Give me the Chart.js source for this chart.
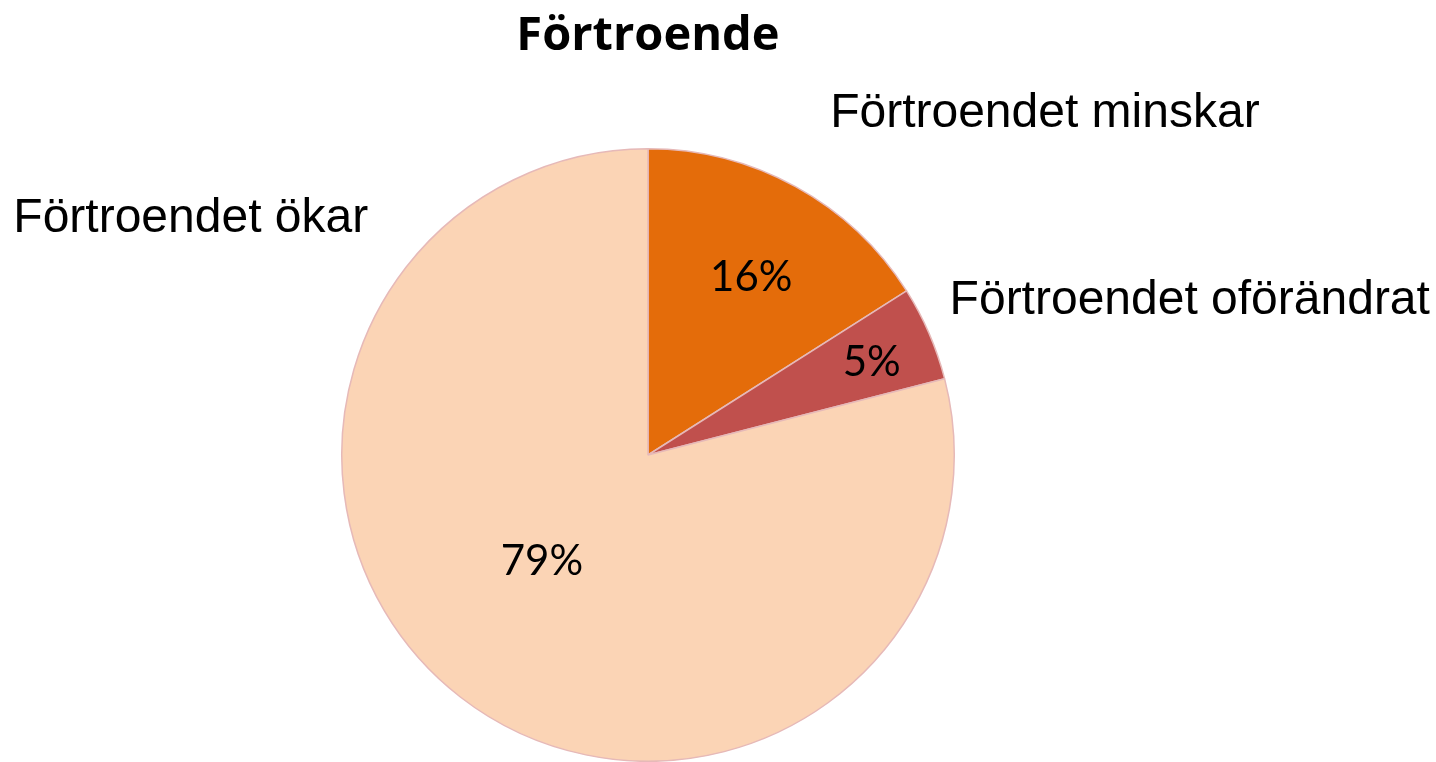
<!DOCTYPE html>
<html><head><meta charset="utf-8">
<script src="https://cdn.jsdelivr.net/npm/chart.js@4"></script>
<style>html,body{margin:0;padding:0;background:#fff;}#wrap{width:1436px;height:762px;position:relative;}</style>
</head><body><div id="wrap"><canvas id="c" width="1436" height="762"></canvas></div>
<script>
const title = "Förtroende";
const categories = ["Förtroendet minskar", "Förtroendet oförändrat", "Förtroendet ökar"];
const values = [16, 5, 79];
const percentLabels = ["16%", "5%", "79%"];
const colors = ["#E46C0A", "#C0504D", "#FBD4B5"];

// layout for labels (relative to pie center, in units of radius)
const outsidePos = [[1.296, -1.114], [1.769, -0.505], [-1.493, -0.772]];
const insidePos = [[0.67, 1.4], [0.79, 1.0], [0.49, 7.2]]; // radial fraction, angle shift (deg)

const labelPlugin = {
  id: 'labels',
  afterDatasetsDraw(chart) {
    const ctx = chart.ctx;
    const meta = chart.getDatasetMeta(0);
    ctx.save();
    ctx.fillStyle = '#000';
    ctx.textAlign = 'center';
    ctx.textBaseline = 'middle';
    ctx.font = 'bold 47px "Open Sans", Lato, sans-serif';
    ctx.fillText(title, 648, 37);
    meta.data.forEach((arc, i) => {
      const p = arc.getProps(['x','y','startAngle','endAngle','outerRadius'], true);
      const mid = (p.startAngle + p.endAngle) / 2 + insidePos[i][1] * Math.PI / 180;
      const d = p.outerRadius * insidePos[i][0];
      ctx.font = '42px Lato, "Open Sans", sans-serif';
      ctx.fillText(percentLabels[i], p.x + Math.cos(mid) * d, p.y + Math.sin(mid) * d);
      ctx.font = '48px "Liberation Sans", Arial, sans-serif';
      ctx.fillText(categories[i], p.x + outsidePos[i][0] * p.outerRadius, p.y + outsidePos[i][1] * p.outerRadius);
    });
    ctx.restore();
  }
};

new Chart(document.getElementById('c'), {
  type: 'pie',
  data: {
    labels: categories,
    datasets: [{ data: values, backgroundColor: colors, borderColor: '#E6B9B8', borderWidth: 1.5 }]
  },
  options: {
    responsive: false,
    animation: false,
    layout: { padding: { left: 341, right: 481, top: 148, bottom: 0 } },
    plugins: { legend: { display: false }, tooltip: { enabled: false }, title: { display: false } }
  },
  plugins: [labelPlugin]
});
</script></body></html>
